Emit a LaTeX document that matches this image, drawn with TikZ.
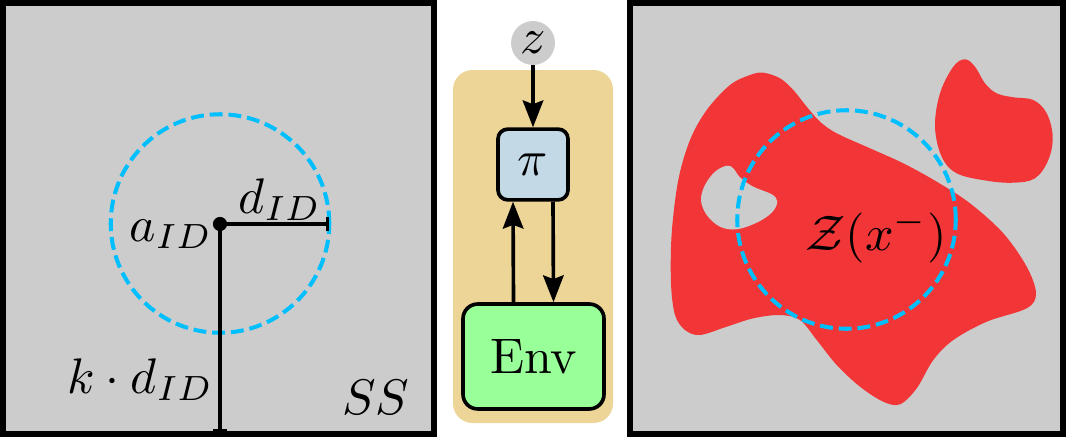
\documentclass[tikz,border=0pt]{standalone}
\usetikzlibrary{arrows.meta}
\definecolor{panelgray}{HTML}{CCCCCC}
\definecolor{ringblue}{HTML}{00BFFF}
\definecolor{blobred}{HTML}{F23536}
\definecolor{tanbg}{HTML}{EDD598}
\definecolor{pifill}{HTML}{C4D9E6}
\definecolor{envfill}{HTML}{99FF99}
\newcommand{\scaledtext}[1]{\scalebox{2.05}{#1}}
\begin{document}
\begin{tikzpicture}[x=0.41pt,y=-0.41pt,
  panel/.style={draw=black,fill=panelgray,line width=2.4pt},
  ring/.style={draw=ringblue,line width=1.65pt,dash pattern=on 5.3pt off 2.4pt},
  lbl/.style={inner sep=0pt},
  measure/.style={line width=1.4pt,-{Bar[width=5.6pt]}},
  flow/.style={line width=1.5pt,-{Stealth[length=11pt,width=8.4pt,inset=1.5pt]}},
  boxbase/.style={draw,line width=1.5pt,inner sep=0pt}]

\useasboundingbox (0,0) rectangle (1066,439);
\fill[white] (0,0) rectangle (1066,439);

% ---------------- left panel ----------------
\draw[panel] (3,3) rectangle (434,434);
\draw[ring] (220,223.5) circle[radius=44.8pt];
\coordinate (aid) at (220,224);
\coordinate (dend) at (329,224);
\coordinate (kend) at (220,432);
\draw[measure] (aid) -- (dend);
\draw[measure] (aid) -- (kend);
\fill (aid) circle[radius=2.9pt];
\node[lbl,anchor=base east] (alabel) at (213,241) {\scaledtext{$a_{ID}$}};
\node[lbl,anchor=base west] (dlabel) at (238,213) {\scaledtext{$d_{ID}$}};
\node[lbl,anchor=base east] (klabel) at (214,393) {\scaledtext{$k\cdot d_{ID}$}};
\node[lbl,anchor=base east] (sslabel) at (410,414) {\scaledtext{$SS$}};

% ---------------- middle ----------------
\fill[tanbg,rounded corners=8pt] (453,70) rectangle (613,423);
\node[circle,fill=panelgray,minimum size=18pt,inner sep=0pt] (z) at (533,43) {\scaledtext{$z$}};
\node[boxbase,fill=pifill,rounded corners=4pt,minimum width=28.7pt,minimum height=29pt] (pi) at (533,164.5) {\scaledtext{$\pi$}};
\node[boxbase,fill=envfill,rounded corners=6pt,minimum width=57.8pt,minimum height=43pt] (env) at (533.5,356.5) {\scaledtext{Env}};
\draw[flow] (z) -- (pi);
\draw[flow] ([xshift=-8.2pt]env.north) -- ([xshift=-8.2pt]pi.south);
\draw[flow] ([xshift=8.2pt]pi.south) -- ([xshift=8.2pt]env.north);

% ---------------- right panel ----------------
\draw[panel] (630,3) rectangle (1063,434);
\fill[blobred] plot[smooth cycle, tension=0.55] coordinates {
 (763.3,72.7) (780,78.3) (793.3,90) (806.7,106.7) (820,121.7) (836.7,133.3)
 (870,148.3) (903.3,163.3) (936.7,181.7) (970,203.3) (1003.3,233.3)
 (1026.7,266.7) (1036,293.3) (1026.7,308.3) (986.7,321.7) (953.3,340)
 (933.3,360) (916.7,388.3) (900,404.3) (883.3,401.7) (860,386.7)
 (836.7,365) (816.7,340) (800,320) (780,315) (753.3,318.3) (726.7,326.7)
 (700,335) (685,330) (675,315) (671,283.3) (671.7,233.3) (678.3,180)
 (690,140) (706.7,110) (730,85) (750,75)};
\fill[blobred] plot[smooth cycle, tension=0.6] coordinates {
 (965,59.3) (975,66.7) (985,83.3) (996.7,93.3) (1013.3,97.3) (1033.3,100)
 (1046.7,113.3) (1052.7,136.7) (1048.3,160) (1035,178.3) (1013.3,182.7)
 (986.7,180.7) (956.7,173.3) (941.7,156.7) (935,126.7) (940,93.3) (953.3,66.7)};
\fill[panelgray] plot[smooth cycle, tension=0.6] coordinates {
 (726.7,165.7) (715,171.7) (705,185) (701,200) (706.7,215) (720,226.7)
 (736.7,229.3) (756.7,222.7) (771.7,212.7) (777.3,201.7) (771.7,194.3)
 (753.3,186.7) (740,177.3) (733.3,168.3)};
\draw[ring] (846.5,219.5) circle[radius=44.8pt];
\node[lbl,anchor=base west] (zlabel) at (805,250) {\scaledtext{$\mathcal{Z}(x^-)$}};
\end{tikzpicture}
\end{document}
